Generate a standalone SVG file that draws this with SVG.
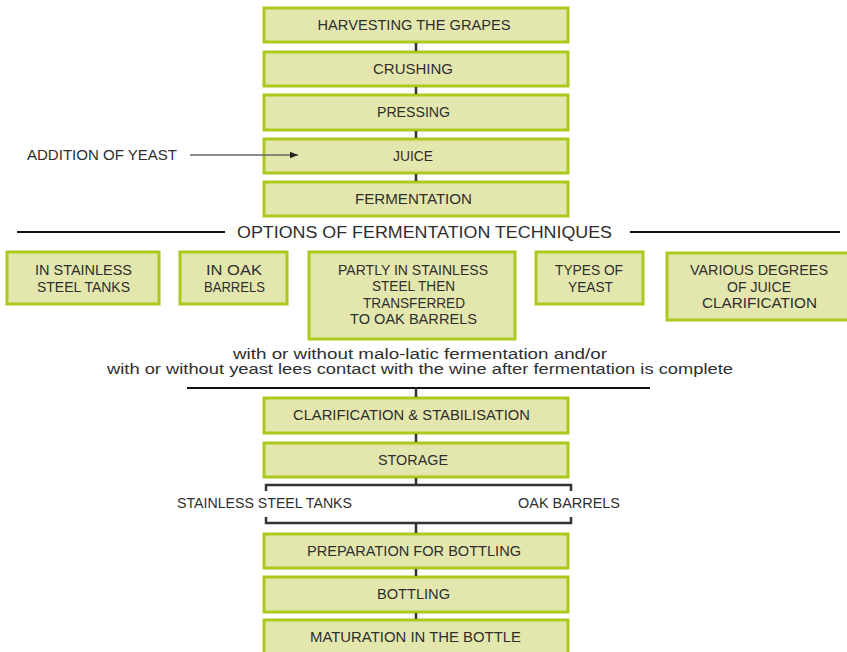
<svg xmlns="http://www.w3.org/2000/svg" width="847" height="652" viewBox="0 0 847 652">
<style>
.box{fill:#e4e7ad;stroke:#adc81c;stroke-width:3}
.t{font-family:"Liberation Sans",Arial,sans-serif;font-size:14px;fill:#2e2e2e;text-anchor:middle}
.l{font-family:"Liberation Sans",Arial,sans-serif;font-size:14px;fill:#2e2e2e;text-anchor:middle}
.c{stroke:#333;stroke-width:2.5;fill:none}
.rule{stroke:#111;stroke-width:2;fill:none}
</style>
<defs>
<marker id="ah" viewBox="0 0 10 10" refX="10" refY="5" markerWidth="10" markerHeight="8" markerUnits="userSpaceOnUse" orient="auto">
<path d="M0,1 L10,5 L0,9 z" fill="#222"/>
</marker>
</defs>
<rect width="847" height="652" fill="#fff"/>

<g id="harvesting"><rect class="box" x="264" y="8" width="304" height="34"/><text class="t" x="414" y="30" textLength="193" lengthAdjust="spacingAndGlyphs">HARVESTING THE GRAPES</text></g>
<g id="crushing"><rect class="box" x="264" y="52" width="304" height="34"/><text class="t" x="413" y="74" textLength="80" lengthAdjust="spacingAndGlyphs">CRUSHING</text></g>
<g id="pressing"><rect class="box" x="264" y="95" width="304" height="35"/><text class="t" x="413.5" y="117" textLength="73" lengthAdjust="spacingAndGlyphs">PRESSING</text></g>
<g id="juice"><rect class="box" x="264" y="139" width="304" height="34"/><text class="t" x="413" y="161" textLength="40" lengthAdjust="spacingAndGlyphs">JUICE</text></g>
<g id="fermentation"><rect class="box" x="264" y="182" width="304" height="34"/><text class="t" x="413.5" y="204" textLength="117" lengthAdjust="spacingAndGlyphs">FERMENTATION</text></g>
<g id="addition-of-yeast"><text class="t" x="102" y="160" textLength="150" lengthAdjust="spacingAndGlyphs">ADDITION OF YEAST</text></g>

<g id="options-title"><text class="t" style="font-size:16px" x="424.5" y="238" textLength="375" lengthAdjust="spacingAndGlyphs">OPTIONS OF FERMENTATION TECHNIQUES</text></g>

<g id="opt-stainless"><rect class="box" x="7" y="252" width="152" height="52"/>
<text class="t" x="83.5" y="275" textLength="97" lengthAdjust="spacingAndGlyphs">IN STAINLESS</text>
<text class="t" x="83.5" y="292" textLength="93" lengthAdjust="spacingAndGlyphs">STEEL TANKS</text></g>
<g id="opt-oak"><rect class="box" x="180" y="252" width="107" height="52"/>
<text class="t" x="234" y="275" textLength="56" lengthAdjust="spacingAndGlyphs">IN OAK</text>
<text class="t" x="234.5" y="292" textLength="61" lengthAdjust="spacingAndGlyphs">BARRELS</text></g>
<g id="opt-partly"><rect class="box" x="309" y="252" width="206" height="87"/>
<text class="t" x="413" y="275" textLength="150" lengthAdjust="spacingAndGlyphs">PARTLY IN STAINLESS</text>
<text class="t" x="413.5" y="291" textLength="83" lengthAdjust="spacingAndGlyphs">STEEL THEN</text>
<text class="t" x="414" y="308" textLength="102" lengthAdjust="spacingAndGlyphs">TRANSFERRED</text>
<text class="t" x="413.5" y="324" textLength="127" lengthAdjust="spacingAndGlyphs">TO OAK BARRELS</text></g>
<g id="opt-yeast"><rect class="box" x="536" y="252" width="107" height="52"/>
<text class="t" x="589" y="275" textLength="68" lengthAdjust="spacingAndGlyphs">TYPES OF</text>
<text class="t" x="590.5" y="292" textLength="45" lengthAdjust="spacingAndGlyphs">YEAST</text></g>
<g id="opt-clarification"><rect class="box" x="667" y="253" width="184" height="67"/>
<text class="t" x="759" y="275" textLength="138" lengthAdjust="spacingAndGlyphs">VARIOUS DEGREES</text>
<text class="t" x="759" y="292" textLength="64" lengthAdjust="spacingAndGlyphs">OF JUICE</text>
<text class="t" x="759.5" y="308" textLength="115" lengthAdjust="spacingAndGlyphs">CLARIFICATION</text></g>

<g id="note">
<text class="l" x="420" y="359" textLength="374" lengthAdjust="spacingAndGlyphs">with or without malo-latic fermentation and/or</text>
<text class="l" x="420" y="374" textLength="626" lengthAdjust="spacingAndGlyphs">with or without yeast lees contact with the wine after fermentation is complete</text>
</g>

<g id="clarification"><rect class="box" x="264" y="398" width="304" height="35"/><text class="t" x="411.5" y="420" textLength="237" lengthAdjust="spacingAndGlyphs">CLARIFICATION &amp; STABILISATION</text></g>
<g id="storage"><rect class="box" x="264" y="443" width="304" height="34"/><text class="t" x="413" y="465" textLength="70" lengthAdjust="spacingAndGlyphs">STORAGE</text></g>
<g id="storage-stainless"><text class="t" x="264.5" y="508" textLength="175" lengthAdjust="spacingAndGlyphs">STAINLESS STEEL TANKS</text></g>
<g id="storage-oak"><text class="t" x="569" y="508" textLength="102" lengthAdjust="spacingAndGlyphs">OAK BARRELS</text></g>

<g id="preparation"><rect class="box" x="264" y="534" width="304" height="34"/><text class="t" x="414" y="556" textLength="214" lengthAdjust="spacingAndGlyphs">PREPARATION FOR BOTTLING</text></g>
<g id="bottling"><rect class="box" x="264" y="577" width="304" height="35"/><text class="t" x="413.5" y="599" textLength="73" lengthAdjust="spacingAndGlyphs">BOTTLING</text></g>
<g id="maturation"><rect class="box" x="264" y="620" width="304" height="40"/><text class="t" x="415.5" y="642" textLength="211" lengthAdjust="spacingAndGlyphs">MATURATION IN THE BOTTLE</text></g>

<g id="connectors">
<line class="c" x1="416" y1="43" x2="416" y2="51"/>
<line class="c" x1="416" y1="87" x2="416" y2="94"/>
<line class="c" x1="416" y1="131" x2="416" y2="138"/>
<line class="c" x1="416" y1="174" x2="416" y2="181"/>
<line x1="190" y1="155" x2="298" y2="155" stroke="#666" stroke-width="1.5" marker-end="url(#ah)"/>
<line class="rule" x1="17" y1="232" x2="225" y2="232"/>
<line class="rule" x1="630" y1="232" x2="840" y2="232"/>
<line class="rule" x1="187" y1="388" x2="650" y2="388"/>
<line class="c" x1="416" y1="388" x2="416" y2="397"/>
<line class="c" x1="416" y1="434" x2="416" y2="442"/>
<line class="c" x1="416" y1="478" x2="416" y2="485"/>
<polyline class="c" stroke-width="2" points="266,491 266,485 571,485 571,491"/>
<polyline class="c" stroke-width="2" points="266,517 266,523 571,523 571,517"/>
<line class="c" x1="416" y1="523" x2="416" y2="533"/>
<line class="c" x1="416" y1="569" x2="416" y2="576"/>
<line class="c" x1="416" y1="613" x2="416" y2="619"/>
</g>
</svg>
